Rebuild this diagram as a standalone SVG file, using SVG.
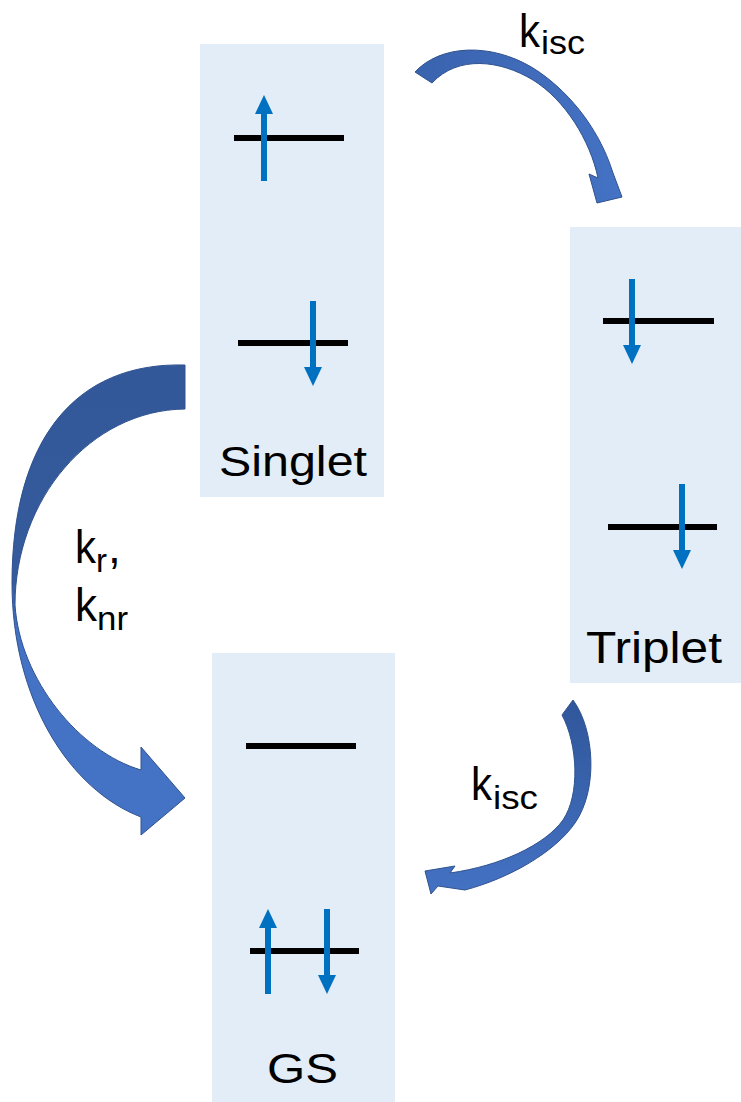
<svg xmlns="http://www.w3.org/2000/svg" width="741" height="1102" viewBox="0 0 741 1102">
<style>
.box{fill:#E2EDF7}
.lvl{stroke:#000;stroke-width:6;fill:none}
.sp{stroke:#0070C0;stroke-width:6;fill:none}
.hd{fill:#0070C0}
.t{font-family:"Liberation Sans",Arial,sans-serif;fill:#000}
.conn{stroke:#2F528F;stroke-width:1;stroke-linejoin:round}
</style>
<defs>
<linearGradient id="gL" gradientUnits="userSpaceOnUse" x1="0" y1="365" x2="0" y2="835">
<stop offset="0" stop-color="#33589A"/>
<stop offset="0.46" stop-color="#355B9D"/>
<stop offset="0.56" stop-color="#4472C4"/>
<stop offset="1" stop-color="#4472C4"/>
</linearGradient>
<linearGradient id="gT" gradientUnits="userSpaceOnUse" x1="415" y1="0" x2="620" y2="0">
<stop offset="0" stop-color="#3A63AE"/>
<stop offset="1" stop-color="#4472C4"/>
</linearGradient>
<linearGradient id="gB" gradientUnits="userSpaceOnUse" x1="0" y1="700" x2="0" y2="895">
<stop offset="0" stop-color="#30569A"/>
<stop offset="1" stop-color="#4472C4"/>
</linearGradient>
</defs>

<g id="singlet">
<rect class="box" x="200" y="44" width="184" height="453"/>
<line class="lvl" x1="234" y1="138" x2="344" y2="138"/>
<line class="lvl" x1="238" y1="343" x2="348" y2="343"/>
<line class="sp" x1="264" y1="181" x2="264" y2="112"/>
<polygon class="hd" points="255,114 273,114 264,95"/>
<line class="sp" x1="313" y1="301" x2="313" y2="369"/>
<polygon class="hd" points="304,367 322,367 313,386"/>
<text class="t" x="219" y="476" font-size="43" textLength="148" lengthAdjust="spacingAndGlyphs">Singlet</text>
</g>

<g id="triplet">
<rect class="box" x="570" y="227" width="171" height="456"/>
<line class="lvl" x1="603" y1="321" x2="714" y2="321"/>
<line class="lvl" x1="608" y1="527" x2="717" y2="527"/>
<line class="sp" x1="632" y1="279" x2="632" y2="347"/>
<polygon class="hd" points="623,345 641,345 632,364"/>
<line class="sp" x1="682" y1="484" x2="682" y2="552"/>
<polygon class="hd" points="673,550 691,550 682,569"/>
<text class="t" x="586" y="663" font-size="44" textLength="136" lengthAdjust="spacingAndGlyphs">Triplet</text>
</g>

<g id="gs">
<rect class="box" x="212" y="653" width="183" height="449"/>
<line class="lvl" x1="246" y1="746" x2="356" y2="746"/>
<line class="lvl" x1="250" y1="951" x2="359" y2="951"/>
<line class="sp" x1="268" y1="994" x2="268" y2="926"/>
<polygon class="hd" points="259,928 277,928 268,909"/>
<line class="sp" x1="327" y1="909" x2="327" y2="977"/>
<polygon class="hd" points="318,975 336,975 327,994"/>
<text class="t" x="267" y="1083" font-size="43" textLength="71" lengthAdjust="spacingAndGlyphs">GS</text>
</g>

<g id="connectors">
<path class="conn" fill="url(#gT)" d="M415,72 C440,45 490,42 533,68 C565,88 598,125 613,173 L622,197 L597,203 L589,174 L598,178 C590,140 565,100 533,80 C500,60 458,55 432,83 Z"/>
<path class="conn" fill="url(#gL)" d="M185,365 C75,362 12,440 12,583 C12,700 70,790 141,817 L141,835 L185,798 L141,747 L141,770 C80,752 20,680 15,605 C15,500 90,410 185,409 Z"/>
<path class="conn" fill="url(#gB)" d="M573,700 C595,730 598,790 575,823 C555,852 510,878 465,890 L438,886 L431,894 L425,871 L455,866 L450,873 C500,866 545,845 563,820 C580,795 578,745 562,715 Z"/>
</g>

<g id="labels">
<text class="t" x="519" y="47" font-size="46" textLength="21" lengthAdjust="spacingAndGlyphs">k</text>
<text class="t" x="541" y="54" font-size="33" textLength="44" lengthAdjust="spacingAndGlyphs">isc</text>
<text class="t" x="75" y="563" font-size="46" textLength="21" lengthAdjust="spacingAndGlyphs">k</text>
<text class="t" x="96" y="572" font-size="33">r</text>
<text class="t" x="108" y="563" font-size="46">,</text>
<text class="t" x="75" y="621" font-size="46" textLength="22" lengthAdjust="spacingAndGlyphs">k</text>
<text class="t" x="97" y="630" font-size="33" textLength="31" lengthAdjust="spacingAndGlyphs">nr</text>
<text class="t" x="471" y="800" font-size="46" textLength="21" lengthAdjust="spacingAndGlyphs">k</text>
<text class="t" x="493" y="809" font-size="33" textLength="45" lengthAdjust="spacingAndGlyphs">isc</text>
</g>
</svg>
